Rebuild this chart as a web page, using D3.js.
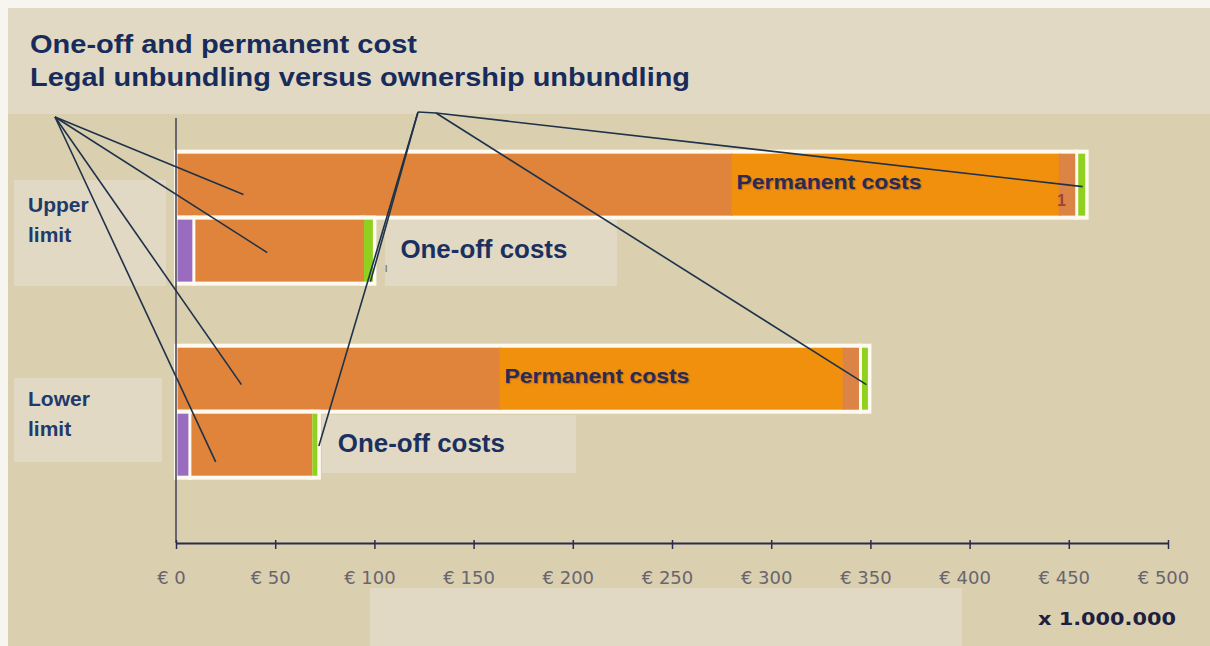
<!DOCTYPE html>
<html><head><meta charset="utf-8">
<script src="https://cdn.jsdelivr.net/npm/d3@7"></script>
<style>
html,body{margin:0;padding:0;background:#f7f5ef;}
svg{display:block;}
</style></head>
<body>
<svg id="chart" width="1210" height="646"></svg>
<script>
// ---------- data ----------
const titleLines = ["One-off and permanent cost", "Legal unbundling versus ownership unbundling"];
const categories = ["Upper limit", "Lower limit"];
const costTypes = ["Permanent costs", "One-off costs"];
const segmentKeys = ["segA", "segB", "segC", "segD", "segE"];
const upperPermanent = [0, 280, 165, 9, 5];
const upperOneOff    = [9, 85, 0, 0, 6];
const lowerPermanent = [0, 163, 173, 9, 4.5];
const lowerOneOff    = [7, 61, 0, 0, 4];
const tickValues = [0, 50, 100, 150, 200, 250, 300, 350, 400, 450, 500];
const unitLabel = "x 1.000.000";
// callout targets: [value, category, cost type, fraction of bar height]
const calloutLeftTargets = [[34, "Upper limit", "Permanent costs", 0.65],
                            [46, "Upper limit", "One-off costs", 0.53],
                            [33, "Lower limit", "Permanent costs", 0.59],
                            [20, "Lower limit", "One-off costs", 0.76]];
const calloutRightDown   = [[98, "Upper limit", "One-off costs", 0.97],
                            [72, "Lower limit", "One-off costs", 0.52]];
const calloutRightAcross = [[457, "Upper limit", "Permanent costs", 0.53],
                            [348, "Lower limit", "Permanent costs", 0.59]];

const rows = [
  {cat: "Upper limit", type: "Permanent costs", vals: upperPermanent, labelGap: 0},
  {cat: "Upper limit", type: "One-off costs", vals: upperOneOff, labelGap: 26},
  {cat: "Lower limit", type: "Permanent costs", vals: lowerPermanent, labelGap: 0},
  {cat: "Lower limit", type: "One-off costs", vals: lowerOneOff, labelGap: 19}
];
const segColors = {segA: "#9a6cbf", segB: "#e0843b", segC: "#f0900d", segD: "#dc8446", segE: "#8fd11e"};
const blocks = [[0], [1, 2, 3], [4]];

// ---------- layout ----------
const svg = d3.select("#chart");
const W = 1210, H = 646;
const x = d3.scaleLinear().domain([0, 500]).range([176, 1168]);
const y = d3.scaleBand().domain(categories).range([118, 543])
  .paddingInner(0.32).paddingOuter(0.255).align(0.34);
const yIn = d3.scaleBand().domain(costTypes).range([0, y.bandwidth()]);
const rowY = (cat, type) => y(cat) + yIn(type);

// backgrounds
svg.append("rect").attr("x", 8).attr("y", 8).attr("width", W - 8).attr("height", H - 8).attr("fill", "#dad0b0");
svg.append("rect").attr("x", 8).attr("y", 8).attr("width", W - 8).attr("height", 106).attr("fill", "#e1d9c4");
const lightBoxes = [[14, 180, 152, 106], [14, 378, 148, 84], [385, 220, 232, 66], [322, 415, 254, 58], [370, 588, 592, 58]];
svg.selectAll("rect.lb").data(lightBoxes).join("rect").attr("class", "lb")
  .attr("x", d => d[0]).attr("y", d => d[1]).attr("width", d => d[2]).attr("height", d => d[3])
  .attr("fill", "#e1d9c3");

// title
svg.selectAll("text.title").data(titleLines).join("text").attr("class", "title")
  .attr("x", 30).attr("y", (d, i) => 53 + i * 33)
  .attr("textLength", (d, i) => i === 0 ? 387 : 660).attr("lengthAdjust", "spacingAndGlyphs")
  .attr("font-family", "Liberation Sans, Arial, sans-serif").attr("font-weight", "bold")
  .attr("font-size", 25).attr("fill", "#182c5c").text(d => d);

// category labels
categories.forEach(c => {
  const [w1, w2] = c.split(" ");
  const yc = y(c) + y.bandwidth() / 2;
  const t = svg.append("text").attr("font-family", "Liberation Sans, Arial, sans-serif")
    .attr("font-weight", "bold").attr("font-size", 21).attr("fill", "#1f3a6b");
  t.append("tspan").attr("x", 28).attr("y", yc - 6).text(w1);
  t.append("tspan").attr("x", 28).attr("y", yc + 24).text(w2);
});

// bars
rows.forEach(r => {
  const cum = [];
  let acc = 0;
  r.vals.forEach(v => { cum.push([acc, acc + v]); acc += v; });
  const y0 = rowY(r.cat, r.type), h = yIn.bandwidth();
  const g = svg.append("g");
  blocks.forEach(b => {
    const s = cum[b[0]][0], e = cum[b[b.length - 1]][1];
    if (e - s <= 0) return;
    g.append("rect").attr("x", x(s)).attr("y", y0).attr("width", x(e) - x(s)).attr("height", h)
      .attr("fill", "#fffaf0").attr("stroke", "#fffaf0").attr("stroke-width", 4);
  });
  g.selectAll("rect.seg").data(segmentKeys.map((k, i) => ({k, s: cum[i][0], e: cum[i][1], i})).filter(d => d.e > d.s))
    .join("rect").attr("class", "seg")
    .attr("y", y0 + 2)
    .attr("width", d => {
      const blk = blocks.find(b => b.includes(d.i));
      const left = d.i === blk[0] ? 1.5 : 0;
      const right = d.i === blk[blk.length - 1] ? 1.5 : -1.5;
      return Math.max(1, x(d.e) - x(d.s) - left - right);
    })
    .attr("x", d => {
      const blk = blocks.find(b => b.includes(d.i));
      return x(d.s) + (d.i === blk[0] ? 1.5 : 0);
    })
    .attr("height", h - 4)
    .attr("fill", d => segColors[d.k]);

  if (r.type === "Permanent costs") {
    svg.append("text").attr("x", x(cum[1][1]) + 5).attr("y", y0 + h / 2 - 3)
      .attr("dominant-baseline", "central")
      .attr("font-family", "Liberation Sans, Arial, sans-serif").attr("font-weight", "bold")
      .attr("font-size", 21).attr("fill", "#2b2a55").attr("textLength", 185).attr("lengthAdjust", "spacingAndGlyphs")
      .style("text-shadow", "1px 1px 1px rgba(60,40,60,0.35)")
      .text(r.type);
  } else {
    svg.append("text").attr("x", x(d3.sum(r.vals)) + r.labelGap).attr("y", y0 + h / 2 - 2)
      .attr("dominant-baseline", "central")
      .attr("font-family", "Liberation Sans, Arial, sans-serif").attr("font-weight", "bold")
      .attr("font-size", 25).attr("fill", "#1b305f").attr("textLength", 167).attr("lengthAdjust", "spacingAndGlyphs")
      .text(r.type);
  }
});

// small data marks
svg.append("text").attr("x", x(upperPermanent[1] + upperPermanent[2]) - 2).attr("y", rowY("Upper limit", "Permanent costs") + 54)
  .attr("font-family", "Liberation Sans, Arial, sans-serif").attr("font-size", 16).attr("font-weight", "bold")
  .attr("fill", "#9a4535").text("1");
svg.append("text").attr("x", x(d3.sum(upperOneOff)) + 10).attr("y", rowY("Upper limit", "One-off costs") + 54)
  .attr("font-family", "Liberation Sans, Arial, sans-serif").attr("font-size", 12)
  .attr("fill", "#6d6a6a").text("ı");

// axes
svg.append("line").attr("x1", x(0)).attr("x2", x(0)).attr("y1", 118).attr("y2", 543)
  .attr("stroke", "#4b4a5c").attr("stroke-width", 1.6);
const axis = d3.axisBottom(x).tickValues(tickValues).tickSize(6).tickSizeOuter(0).tickFormat(d => "€ " + d);
const ax = svg.append("g").attr("transform", "translate(0,543)").call(axis);
ax.select(".domain").attr("stroke", "#2b2b4f").attr("stroke-width", 2.2);
ax.selectAll(".tick line").attr("stroke", "#2b2b4f").attr("stroke-width", 1.5).attr("y1", -3);
ax.selectAll(".tick text").attr("y", 28).attr("dx", -5)
  .attr("font-family", "DejaVu Sans, Verdana, sans-serif").attr("font-size", 18).attr("fill", "#69656e");
svg.append("text").attr("x", 1176).attr("y", 625).attr("text-anchor", "end")
  .attr("font-family", "DejaVu Sans, Verdana, sans-serif").attr("font-weight", "bold").attr("font-size", 17)
  .attr("fill", "#1e2040").attr("textLength", 138).attr("lengthAdjust", "spacingAndGlyphs").text(unitLabel);

// callout lines
const tgt = d => [x(d[0]), rowY(d[1], d[2]) + yIn.bandwidth() * d[3]];
const lineStyle = sel => sel.attr("stroke", "#1e3249").attr("stroke-width", 1.6).attr("fill", "none");
const leftOrigin = [55, 117], rightOrigin = [418, 112], rightKnee = [436, 113];
calloutLeftTargets.forEach(d => {
  const p = tgt(d);
  svg.append("line").attr("x1", leftOrigin[0]).attr("y1", leftOrigin[1]).attr("x2", p[0]).attr("y2", p[1]).call(lineStyle);
});
calloutRightDown.forEach(d => {
  const p = tgt(d);
  svg.append("line").attr("x1", rightOrigin[0]).attr("y1", rightOrigin[1]).attr("x2", p[0]).attr("y2", p[1]).call(lineStyle);
});
svg.append("line").attr("x1", rightOrigin[0]).attr("y1", rightOrigin[1]).attr("x2", rightKnee[0]).attr("y2", rightKnee[1]).call(lineStyle);
calloutRightAcross.forEach(d => {
  const p = tgt(d);
  svg.append("line").attr("x1", rightKnee[0]).attr("y1", rightKnee[1]).attr("x2", p[0]).attr("y2", p[1]).call(lineStyle);
});
</script>
</body></html>
